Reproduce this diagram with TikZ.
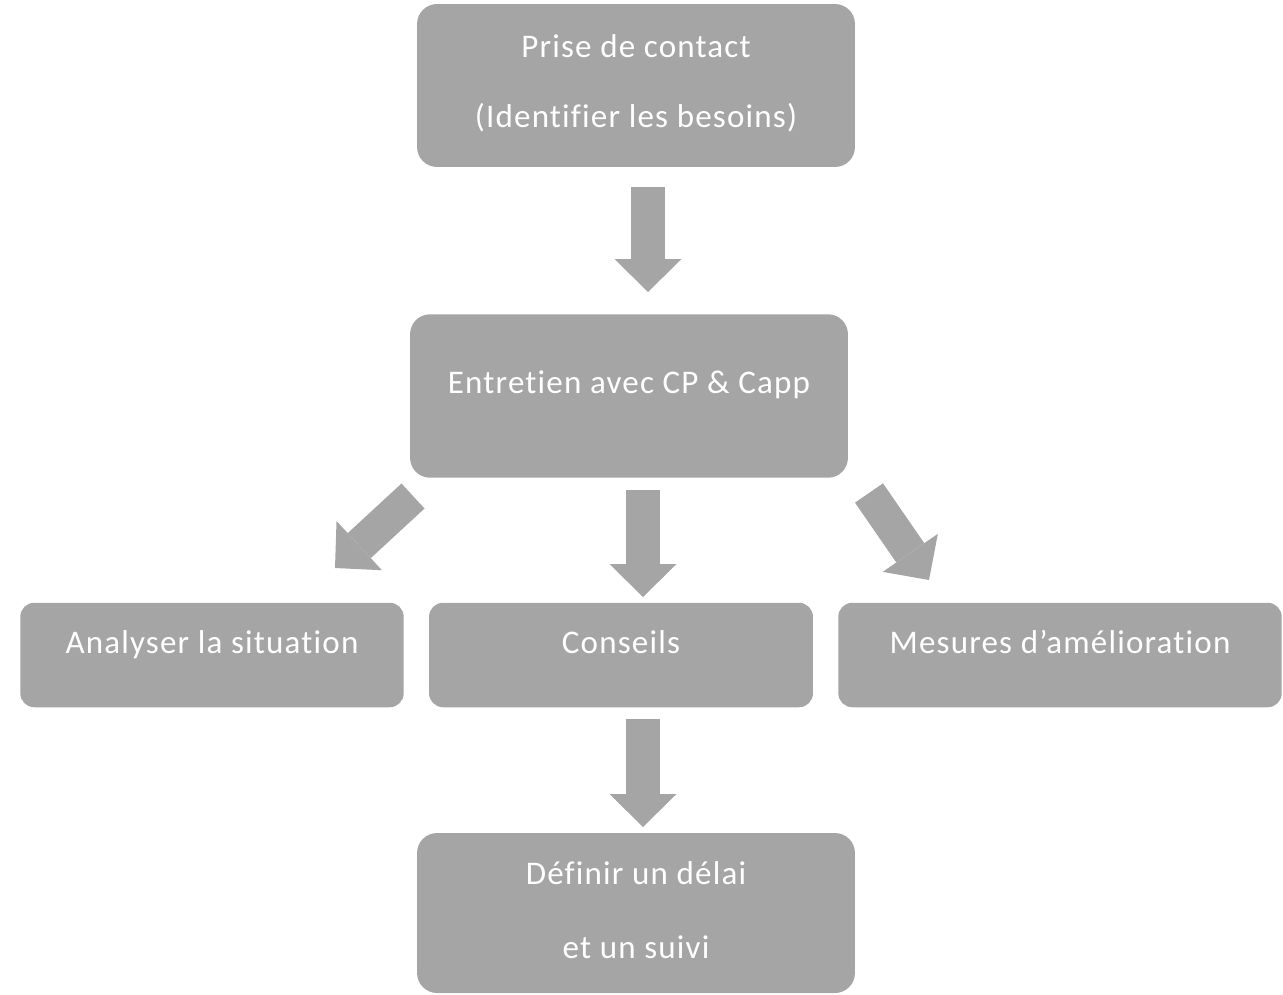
\documentclass[tikz,border=0pt]{standalone}
\usepackage{fontspec}
\setmainfont{Carlito}[Ligatures=NoCommon,LetterSpace=3.6]
\usetikzlibrary{arrows.meta}
\definecolor{boxgray}{HTML}{A5A5A5}

\begin{document}
\begin{tikzpicture}[x=0.02cm,y=-0.02cm,
  bigbox/.style={fill=boxgray,rounded corners=0.4cm,inner sep=0pt,minimum width=8.76cm},
  rowbox/.style={fill=boxgray,rounded corners=0.28cm,inner sep=0pt,minimum height=2.09cm},
  lbl/.style={text=white,anchor=base,inner sep=0pt,font=\fontsize{18.8}{22}\selectfont},
  bigarrow/.style={boxgray,line width=0.68cm,-{Triangle[length=0.66cm,width=1.34cm,line width=0pt]}}]
\useasboundingbox (0,0) rectangle (1283,994);

% boxes
\node[bigbox,minimum height=3.26cm] (prise) at (636,85.5) {};
\node[bigbox,minimum height=3.27cm] (entretien) at (629,396) {};
\node[rowbox,minimum width=7.67cm] (analyser) at (212,655) {};
\node[rowbox,minimum width=7.68cm] (conseils) at (621,655) {};
\node[rowbox,minimum width=8.87cm] (mesures) at (1060,655) {};
\node[bigbox,minimum height=3.2cm] (definir) at (636,913) {};

% texts
\node[lbl] (prise1) at (636,57) {Prise de contact};
\node[lbl] (prise2) at (636,127) {(Identifier les besoins)};
\node[lbl] (entretien1) at (629,393) {Entretien avec CP \& Capp};
\node[lbl] (analyser1) at (212,653) {Analyser la situation};
\node[lbl] (conseils1) at (621,653) {Conseils};
\node[lbl] (mesures1) at (1060,653) {Mesures d’amélioration};
\node[lbl] (definir1) at (636,884) {Définir un délai};
\node[lbl] (definir2) at (636,958) {et un suivi};

% arrows
\coordinate (a1s) at (648,187);
\coordinate (a1e) at (648,292);
\coordinate (a2s) at (413,496);
\coordinate (a2e) at (335,568);
\coordinate (a3s) at (643,490);
\coordinate (a3e) at (643,597);
\coordinate (a4s) at (869,493);
\coordinate (a4e) at (929,580);
\coordinate (a5s) at (643,719);
\coordinate (a5e) at (643,827);
\draw[bigarrow] (a1s) -- (a1e);
\draw[bigarrow] (a2s) -- (a2e);
\draw[bigarrow] (a3s) -- (a3e);
\draw[bigarrow] (a4s) -- (a4e);
\draw[bigarrow] (a5s) -- (a5e);
\end{tikzpicture}
\end{document}
